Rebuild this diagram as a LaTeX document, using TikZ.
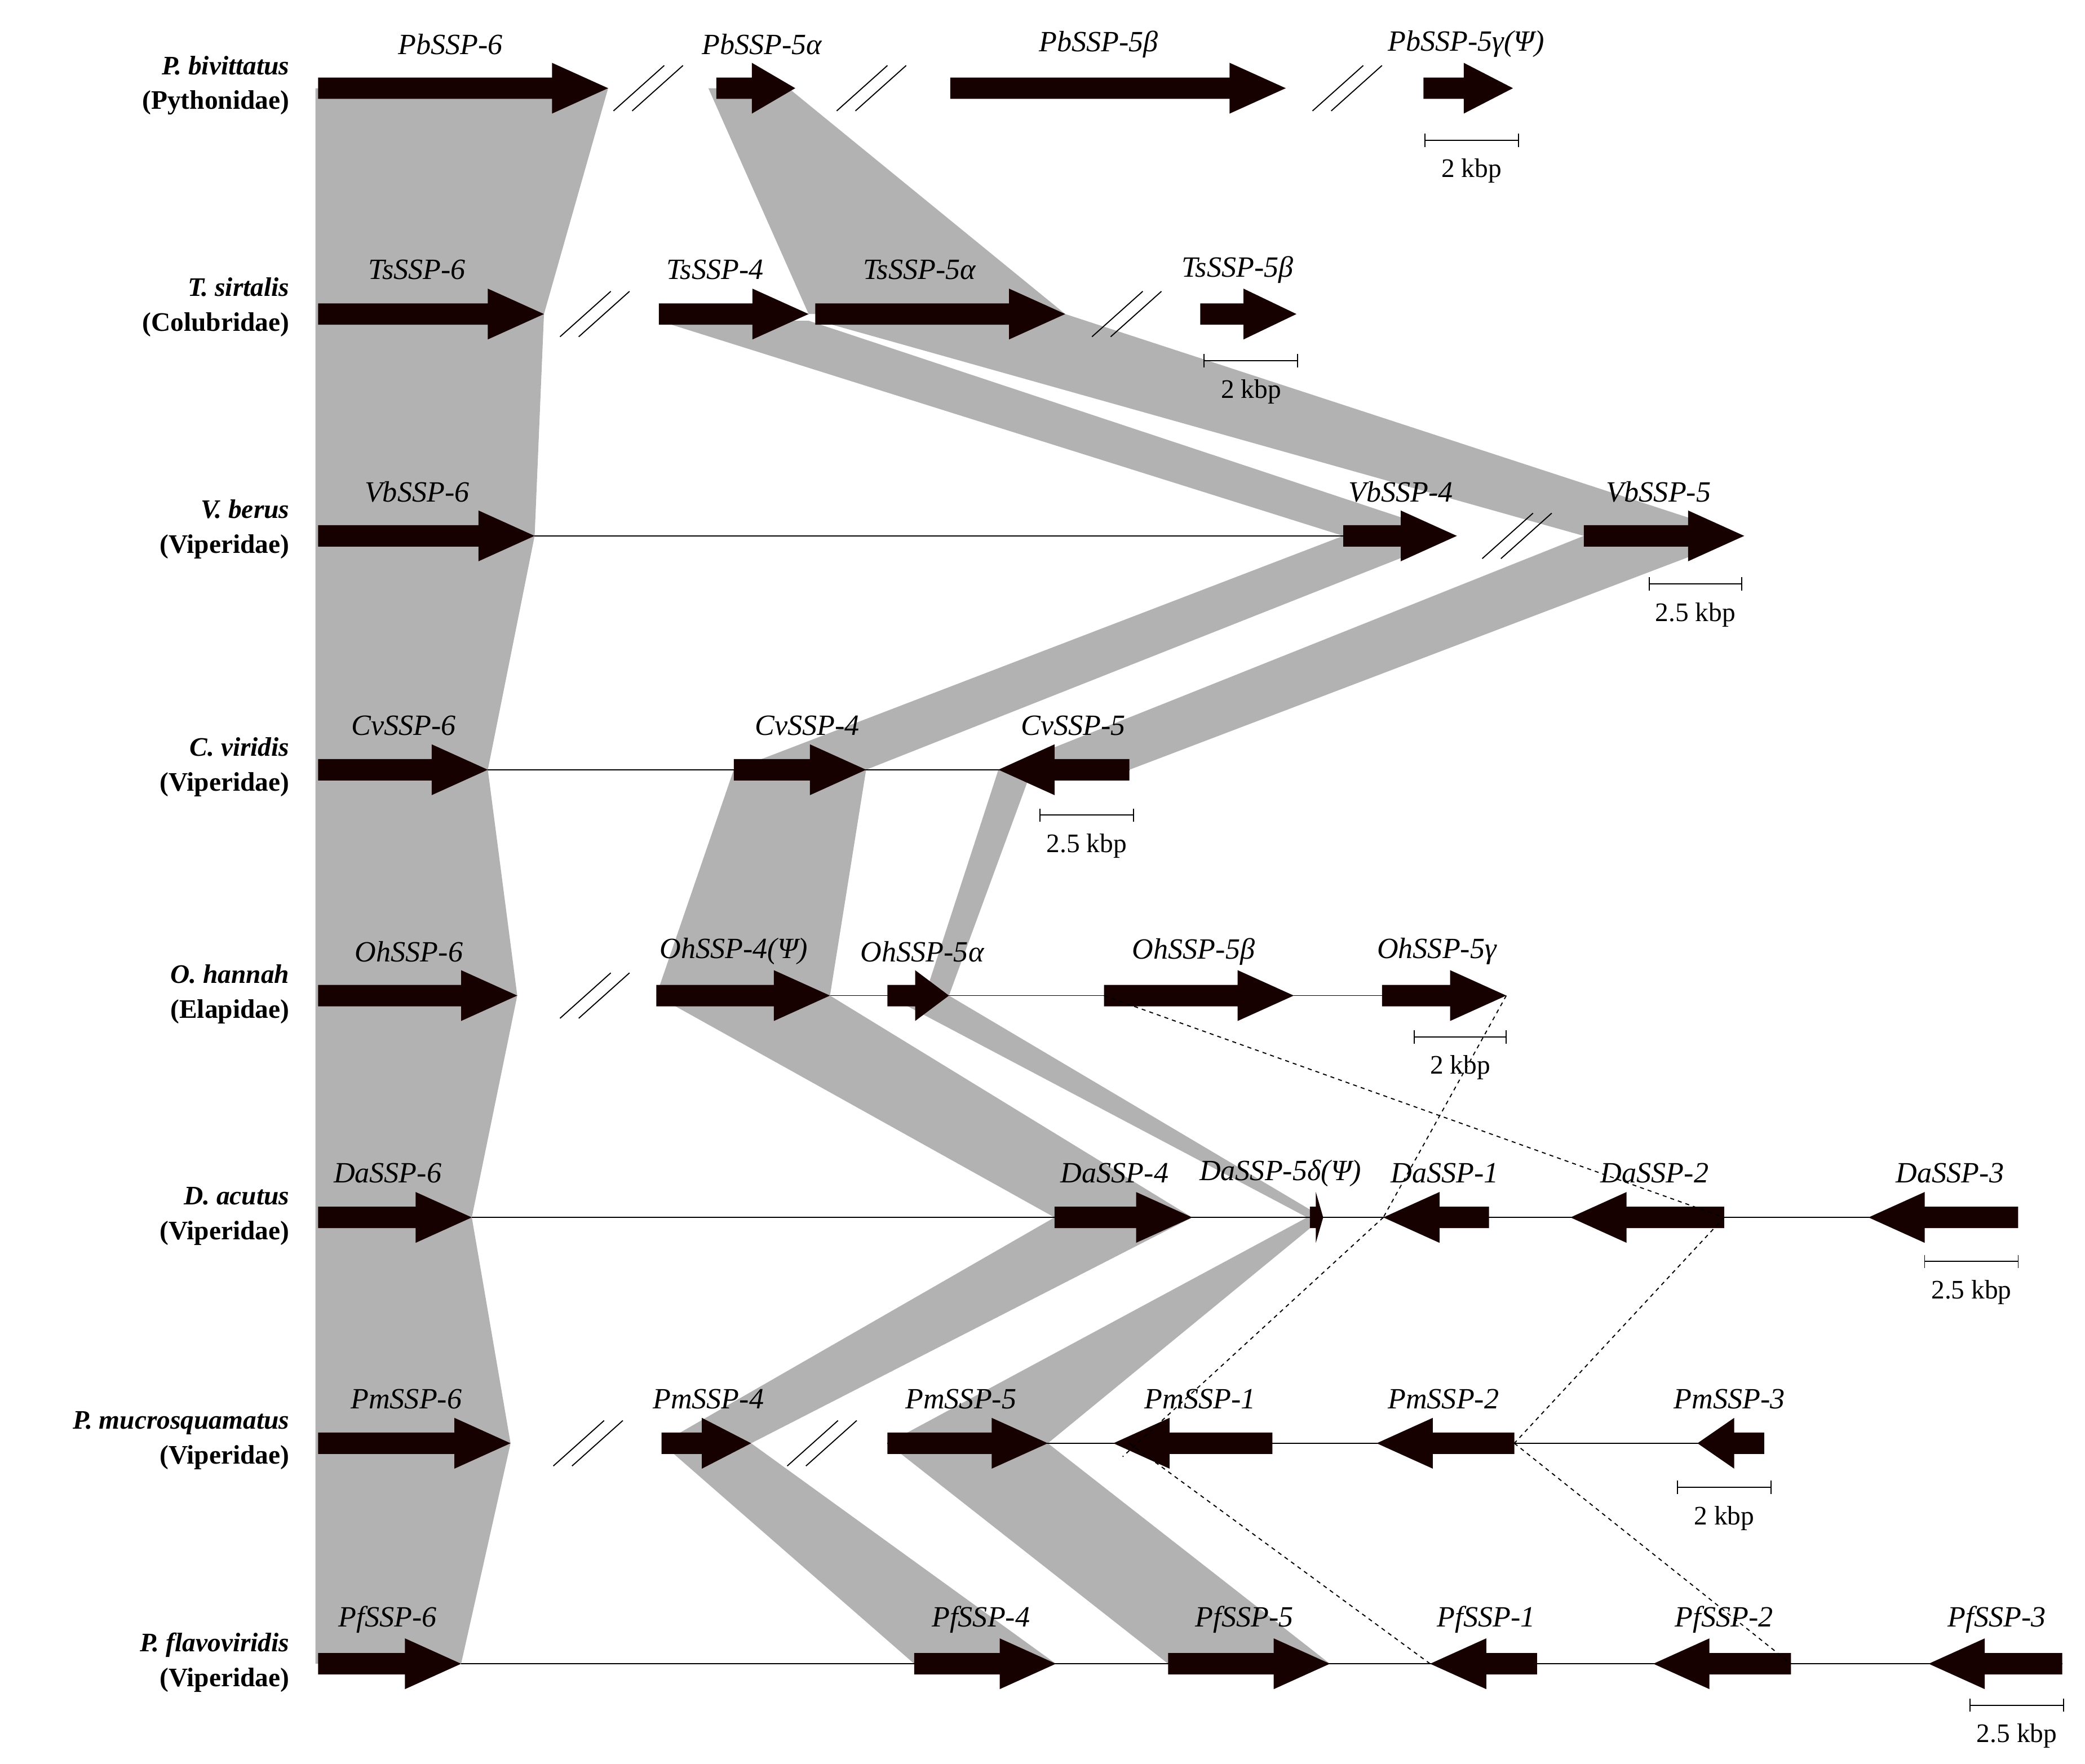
\documentclass[tikz,border=0pt]{standalone}
\usepackage{fontspec}
\setmainfont{Liberation Serif}
\begin{document}
\newcommand{\gR}[3]{\pgfmathsetmacro\hl{min(42,(#2-#1)*0.55)}\fill[gene] (#1,#3-8) -- (#2-\hl,#3-8) -- (#2-\hl,#3-19) -- (#2,#3) -- (#2-\hl,#3+19) -- (#2-\hl,#3+8) -- (#1,#3+8) -- cycle;}
\newcommand{\gL}[3]{\pgfmathsetmacro\hl{min(42,(#2-#1)*0.55)}\fill[gene] (#2,#3-8) -- (#1+\hl,#3-8) -- (#1+\hl,#3-19) -- (#1,#3) -- (#1+\hl,#3+19) -- (#1+\hl,#3+8) -- (#2,#3+8) -- cycle;}
\newcommand{\brk}[2]{\draw[thick] (#1-26,#2+17) -- (#1+12,#2-17) (#1-12,#2+17) -- (#1+26,#2-17);}
\newcommand{\sbar}[4]{\draw[thick] (#1,#3) -- (#2,#3) (#1,#3-5) -- (#1,#3+5) (#2,#3-5) -- (#2,#3+5); \node[lab] at ({(#1+#2)/2},#3+23) {#4};}
\newcommand{\gl}[3]{\node[glab] at (#1,#2-33) {#3};}
\newcommand{\spc}[3]{\node[splab] at (220,#1) {\textbf{\textit{#2}}\\\textbf{(#3)}};}
\begin{tikzpicture}[x=1pt,y=-1pt,
 gene/.style={fill=black!85!red!60!black},
 band/.style={fill=black!30},
 lab/.style={font=\fontsize{20}{22}\selectfont},
 glab/.style={font=\fontsize{22}{24}\selectfont\itshape},
 splab/.style={anchor=east,align=right,font=\fontsize{20}{26}\selectfont},
 dln/.style={thick,dashed}]
\useasboundingbox (0,0) rectangle (1560,1320);
% bands
\fill[band] (236,66) -- (455,66) -- (407,235) -- (400,401) -- (365,576) -- (387,745) -- (353,911) -- (382,1080) -- (345,1245) -- (236,1245) -- cycle;
\fill[band] (530,66) -- (590,66) -- (797,235) -- (605,235) -- cycle;
\fill[band] (493,240) -- (605,240) -- (1090,401) -- (1005,401) -- cycle;
\fill[band] (612,240) -- (797,235) -- (1305,401) -- (1185,401) -- cycle;
\fill[band] (1005,401) -- (1090,401) -- (648,576) -- (549,576) -- cycle;
\fill[band] (1185,401) -- (1305,401) -- (845,576) -- (747,576) -- cycle;
\fill[band] (549,576) -- (648,576) -- (621,745) -- (491,745) -- cycle;
\fill[band] (747,576) -- (772,576) -- (710,745) -- (692,745) -- cycle;
\fill[band] (491,745) -- (621,745) -- (892,911) -- (789,911) -- cycle;
\fill[band] (664,745) -- (710,745) -- (990,911) -- (978,911) -- cycle;
\fill[band] (789,911) -- (892,911) -- (562,1080) -- (495,1080) -- cycle;
\fill[band] (978,911) -- (990,911) -- (784,1080) -- (664,1080) -- cycle;
\fill[band] (495,1080) -- (562,1080) -- (790,1245) -- (684,1245) -- cycle;
\fill[band] (664,1080) -- (784,1080) -- (995,1245) -- (874,1245) -- cycle;
% backbone lines
\draw[thick] (400,401) -- (1005,401);
\draw[thick] (365,576) -- (845,576);
\draw[thick] (621,745) -- (1125,745);
\draw[thick] (353,911) -- (1510,911);
\draw[thick] (664,1080) -- (1320,1080);
\draw[thick] (345,1245) -- (1543,1245);
% Pb
\gR{238}{455}{66}\gR{536}{595}{66}\gR{711}{962}{66}\gR{1065}{1132}{66}
\brk{485}{66}\brk{652}{66}\brk{1008}{66}
\gl{337}{66}{PbSSP-6}\gl{570}{66}{PbSSP-5α}\gl{822}{66}{PbSSP-5β}\gl{1097}{66}{PbSSP-5γ(Ψ)}
\sbar{1066}{1136}{105}{2 kbp}
% Ts
\gR{238}{407}{235}\gR{493}{605}{235}\gR{610}{797}{235}\gR{898}{970}{235}
\brk{445}{235}\brk{843}{235}
\gl{312}{235}{TsSSP-6}\gl{535}{235}{TsSSP-4}\gl{688}{235}{TsSSP-5α}\gl{926}{235}{TsSSP-5β}
\sbar{901}{971}{270}{2 kbp}
% Vb
\gR{238}{400}{401}\gR{1005}{1090}{401}\gR{1185}{1305}{401}
\brk{1135}{401}
\gl{312}{401}{VbSSP-6}\gl{1048}{401}{VbSSP-4}\gl{1241}{401}{VbSSP-5}
\sbar{1234}{1303}{437}{2.5 kbp}
% Cv
\gR{238}{365}{576}\gR{549}{648}{576}\gL{747}{845}{576}
\gl{302}{576}{CvSSP-6}\gl{604}{576}{CvSSP-4}\gl{803}{576}{CvSSP-5}
\sbar{778}{848}{610}{2.5 kbp}
% Oh
\gR{238}{387}{745}\gR{491}{621}{745}\gR{664}{710}{745}\gR{826}{968}{745}\gR{1034}{1127}{745}
\brk{445}{745}
\gl{306}{745}{OhSSP-6}\gl{549}{745}{OhSSP-4(Ψ)}\gl{690}{745}{OhSSP-5α}\gl{893}{745}{OhSSP-5β}\gl{1075}{745}{OhSSP-5γ}
\sbar{1058}{1127}{776}{2 kbp}
% Da
\gR{238}{353}{911}\gR{789}{892}{911}\gR{980}{990}{911}\gL{1035}{1114}{911}\gL{1175}{1290}{911}\gL{1398}{1510}{911}
\gl{290}{911}{DaSSP-6}\gl{834}{911}{DaSSP-4}\gl{958}{911}{DaSSP-5δ(Ψ)}\gl{1081}{911}{DaSSP-1}\gl{1238}{911}{DaSSP-2}\gl{1459}{911}{DaSSP-3}
\sbar{1440}{1510}{944}{2.5 kbp}
% Pm
\gR{238}{382}{1080}\gR{495}{562}{1080}\gR{664}{784}{1080}\gL{833}{952}{1080}\gL{1030}{1133}{1080}\gL{1270}{1320}{1080}
\brk{440}{1080}\brk{615}{1080}
\gl{304}{1080}{PmSSP-6}\gl{530}{1080}{PmSSP-4}\gl{719}{1080}{PmSSP-5}\gl{898}{1080}{PmSSP-1}\gl{1080}{1080}{PmSSP-2}\gl{1294}{1080}{PmSSP-3}
\sbar{1255}{1325}{1113}{2 kbp}
% Pf
\gR{238}{345}{1245}\gR{684}{790}{1245}\gR{874}{995}{1245}\gL{1070}{1150}{1245}\gL{1237}{1340}{1245}\gL{1443}{1543}{1245}
\gl{290}{1245}{PfSSP-6}\gl{734}{1245}{PfSSP-4}\gl{931}{1245}{PfSSP-5}\gl{1112}{1245}{PfSSP-1}\gl{1290}{1245}{PfSSP-2}\gl{1494}{1245}{PfSSP-3}
\sbar{1474}{1544}{1276}{2.5 kbp}
% dashed
\draw[dln] (826,745) -- (1290,911);
\draw[dln] (1127,745) -- (1035,911);
\draw[dln] (1035,911) -- (840,1090);
\draw[dln] (1290,911) -- (1133,1080);
\draw[dln] (845,1080) -- (1070,1245);
\draw[dln] (1133,1080) -- (1340,1245);
% species
\spc{64}{P. bivittatus}{Pythonidae}
\spc{230}{T. sirtalis}{Colubridae}
\spc{396}{V. berus}{Viperidae}
\spc{574}{C. viridis}{Viperidae}
\spc{744}{O. hannah}{Elapidae}
\spc{910}{D. acutus}{Viperidae}
\spc{1078}{P. mucrosquamatus}{Viperidae}
\spc{1244}{P. flavoviridis}{Viperidae}
\end{tikzpicture}
\end{document}
